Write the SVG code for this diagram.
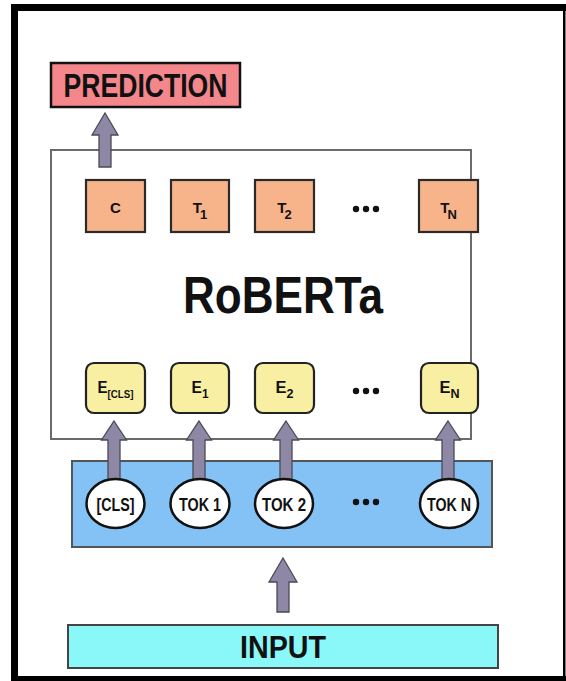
<svg xmlns="http://www.w3.org/2000/svg" width="566" height="681" viewBox="0 0 566 681">
  <style>
    .lbl { font-family: "Liberation Sans", Arial, sans-serif; font-weight: bold; fill: #111; }
    .out { fill: #F7B38A; stroke: #2a2a2a; stroke-width: 2.2; }
    .emb { fill: #F8EFA2; stroke: #222; stroke-width: 2.2; }
    .tok { fill: #ffffff; stroke: #111; stroke-width: 2.5; }
    .arrow { fill: #8E88A6; stroke: #4a4a55; stroke-width: 1.3; stroke-linejoin: miter; }
    .dots { fill: #111; }
  </style>

  <rect x="0" y="0" width="566" height="681" fill="#ffffff"/>

  <!-- outer frame -->
  <g id="frame" fill="#000">
    <rect x="11" y="4" width="555" height="7"/>
    <rect x="11" y="4" width="7" height="677"/>
    <rect x="11" y="676" width="555" height="5"/>
    <rect x="563" y="4" width="2.5" height="677"/>
  </g>

  <!-- encoder body -->
  <g id="roberta">
    <rect x="51" y="150" width="420" height="289" fill="#ffffff" stroke="#6a6a6a" stroke-width="2"/>
    <text class="lbl" x="283" y="313" font-size="52" text-anchor="middle" textLength="200" lengthAdjust="spacingAndGlyphs">RoBERTa</text>
  </g>

  <!-- token strip -->
  <g id="token-strip">
    <rect x="72" y="461" width="420" height="86" fill="#84C1F5" stroke="#555" stroke-width="2"/>
  </g>

  <!-- prediction head -->
  <g id="prediction">
    <rect x="51" y="63" width="189" height="44" fill="#F4878B" stroke="#111" stroke-width="2.5"/>
    <text class="lbl" x="145.5" y="97" font-size="34" text-anchor="middle" textLength="164" lengthAdjust="spacingAndGlyphs">PREDICTION</text>
  </g>

  <!-- input -->
  <g id="input">
    <rect x="68" y="625" width="430" height="43" fill="#8AF8F8" stroke="#444" stroke-width="2"/>
    <text class="lbl" x="283" y="658" font-size="32" text-anchor="middle" textLength="86" lengthAdjust="spacingAndGlyphs">INPUT</text>
  </g>

  <!-- connectors -->
  <g id="connectors">
    <path class="arrow" d="M105,113 L118,135 L111,135 L111,167 L99,167 L99,135 L92,135 Z"/>
    <path class="arrow" d="M114,421 L126.5,440 L120,440 L120,482 L108,482 L108,440 L101.5,440 Z"/>
    <path class="arrow" d="M199,421 L211.5,440 L205,440 L205,482 L193,482 L193,440 L186.5,440 Z"/>
    <path class="arrow" d="M286,421 L298.5,440 L292,440 L292,482 L280,482 L280,440 L273.5,440 Z"/>
    <path class="arrow" d="M448,421 L460.5,440 L454,440 L454,482 L442,482 L442,440 L435.5,440 Z"/>
    <path class="arrow" d="M283,558 L297,582 L289,582 L289,612 L277,612 L277,582 L269,582 Z"/>
  </g>

  <!-- output vectors -->
  <g id="out-c">
    <rect class="out" x="86" y="180" width="59" height="52"/>
    <text class="lbl" x="115.5" y="213" font-size="15" text-anchor="middle">C</text>
  </g>
  <g id="out-t1">
    <rect class="out" x="171" y="180" width="58" height="52"/>
    <text class="lbl" x="200" y="213" font-size="15" text-anchor="middle">T<tspan font-size="13" dx="-2" dy="6">1</tspan></text>
  </g>
  <g id="out-t2">
    <rect class="out" x="255" y="180" width="59" height="52"/>
    <text class="lbl" x="284.5" y="213" font-size="15" text-anchor="middle">T<tspan font-size="13" dx="-2" dy="6">2</tspan></text>
  </g>
  <g id="out-dots" class="dots">
    <circle cx="356" cy="209" r="3.2"/>
    <circle cx="366" cy="209" r="3.2"/>
    <circle cx="376" cy="209" r="3.2"/>
  </g>
  <g id="out-tn">
    <rect class="out" x="419" y="180" width="59" height="52"/>
    <text class="lbl" x="448.5" y="213" font-size="15" text-anchor="middle">T<tspan font-size="13" dx="-2" dy="6">N</tspan></text>
  </g>

  <!-- embeddings -->
  <g id="emb-cls">
    <rect class="emb" x="86" y="363" width="59" height="50" rx="8"/>
    <text class="lbl" x="115.5" y="393" font-size="17" text-anchor="middle" textLength="36" lengthAdjust="spacingAndGlyphs">E<tspan font-size="11" dy="5">[CLS]</tspan></text>
  </g>
  <g id="emb-1">
    <rect class="emb" x="171" y="363" width="58" height="50" rx="8"/>
    <text class="lbl" x="200" y="393" font-size="17" text-anchor="middle" textLength="17" lengthAdjust="spacingAndGlyphs">E<tspan font-size="13" dy="5">1</tspan></text>
  </g>
  <g id="emb-2">
    <rect class="emb" x="255" y="363" width="59" height="50" rx="8"/>
    <text class="lbl" x="284.5" y="393" font-size="17" text-anchor="middle" textLength="18" lengthAdjust="spacingAndGlyphs">E<tspan font-size="13" dy="5">2</tspan></text>
  </g>
  <g id="emb-dots" class="dots">
    <circle cx="356" cy="391" r="3.2"/>
    <circle cx="366" cy="391" r="3.2"/>
    <circle cx="376" cy="391" r="3.2"/>
  </g>
  <g id="emb-n">
    <rect class="emb" x="421" y="363" width="57" height="50" rx="8"/>
    <text class="lbl" x="449.5" y="393" font-size="17" text-anchor="middle" textLength="20" lengthAdjust="spacingAndGlyphs">E<tspan font-size="13" dy="5">N</tspan></text>
  </g>

  <!-- tokens -->
  <g id="tok-cls">
    <ellipse class="tok" cx="115.5" cy="503.5" rx="29" ry="24.5"/>
    <text class="lbl" x="115.5" y="511" font-size="18" text-anchor="middle" textLength="38" lengthAdjust="spacingAndGlyphs">[CLS]</text>
  </g>
  <g id="tok-1">
    <ellipse class="tok" cx="200" cy="503.5" rx="29.5" ry="24.5"/>
    <text class="lbl" x="200" y="511" font-size="18" text-anchor="middle" textLength="42" lengthAdjust="spacingAndGlyphs">TOK 1</text>
  </g>
  <g id="tok-2">
    <ellipse class="tok" cx="284" cy="503.5" rx="29" ry="24.5"/>
    <text class="lbl" x="284" y="511" font-size="18" text-anchor="middle" textLength="44" lengthAdjust="spacingAndGlyphs">TOK 2</text>
  </g>
  <g id="tok-dots" class="dots">
    <circle cx="356" cy="502" r="3.2"/>
    <circle cx="366" cy="502" r="3.2"/>
    <circle cx="376" cy="502" r="3.2"/>
  </g>
  <g id="tok-n">
    <ellipse class="tok" cx="449" cy="503.5" rx="29" ry="24.5"/>
    <text class="lbl" x="449" y="511" font-size="18" text-anchor="middle" textLength="44" lengthAdjust="spacingAndGlyphs">TOK N</text>
  </g>
</svg>
